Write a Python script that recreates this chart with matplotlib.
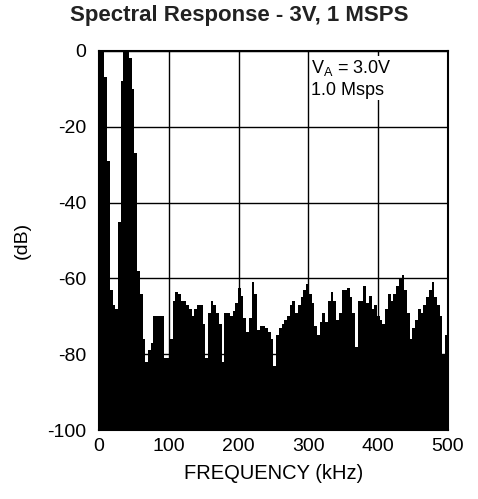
import numpy as np
import matplotlib
matplotlib.use("Agg")
import matplotlib.pyplot as plt

plt.rcParams['font.family'] = ['Liberation Sans', 'DejaVu Sans']
plt.rcParams['axes.unicode_minus'] = False

# ====== data ======
n_bins = 128
f_max = 500.0  # kHz
level_db = [
    0, 0, -7, -29, -63, -67, -68, -45, -8, 0,
    0, -2, -10, -27, -58, -64, -76, -82, -79, -77,
    -70, -70, -70, -70, -81, -81, -76, -66, -63.5, -64,
    -66, -66, -67, -68, -70, -68, -67, -67, -72, -81,
    -69, -66, -67, -69, -72, -82, -69, -69, -70, -68.5,
    -66.5, -62.5, -64.5, -70.5, -74, -70.5, -61, -64, -73.6, -72.5,
    -72.5, -73, -74, -76, -83, -75, -73, -72, -71, -70,
    -67, -66, -69, -67, -65, -63, -61.5, -64, -66.5, -72.5,
    -75, -71.5, -69, -71.5, -66, -63.5, -66, -71, -69, -63,
    -63, -62.5, -65, -69, -78, -66, -66, -62, -66.5, -64.5,
    -68, -67, -70, -71, -72, -68, -64, -66, -64, -62,
    -60, -59, -63, -69, -76, -73, -71, -68, -69, -67,
    -65, -63, -61, -65, -67, -70, -80, -75,
]
x_ticks = [0, 100, 200, 300, 400, 500]
y_ticks = [0, -20, -40, -60, -80, -100]

# ====== figure ======
fig = plt.figure(figsize=(4.78, 4.99), dpi=100)
ax = fig.add_axes([0.207, 0.138, 0.73, 0.76])

bin_w = f_max / n_bins
freqs = np.arange(n_bins) * bin_w
heights = np.array(level_db) + 100
ax.bar(freqs, heights, width=bin_w, bottom=-100, align='edge',
       color='black', linewidth=0, zorder=2)

ax.set_xlim(0, 500)
ax.set_ylim(-100, 0)
ax.set_xticks(x_ticks)
ax.set_yticks(y_ticks)
ax.grid(True, color='black', linewidth=1.0, zorder=1)
ax.set_axisbelow(True)
ax.tick_params(length=0, labelsize=14)
ax.tick_params(axis='x', pad=6)
ax.tick_params(axis='y', pad=9)
for s in ax.spines.values():
    s.set_linewidth(1.5)
    s.set_zorder(3)

ax.set_xlabel('FREQUENCY (kHz)', fontsize=14.5, labelpad=6)
ax.set_ylabel('(dB)', fontsize=14, labelpad=12)
fig.suptitle('Spectral Response - 3V, 1 MSPS', x=0.5, y=0.99,
             fontsize=16, fontweight='bold', color='#222222')

ax.text(304, -2, '$\\mathregular{V_A}$ = 3.0V\n1.0 Msps', fontsize=13,
        va='top', ha='left', linespacing=1.25,
        bbox=dict(facecolor='white', edgecolor='none', pad=1), zorder=4)

fig.savefig('out.png', dpi=100)
